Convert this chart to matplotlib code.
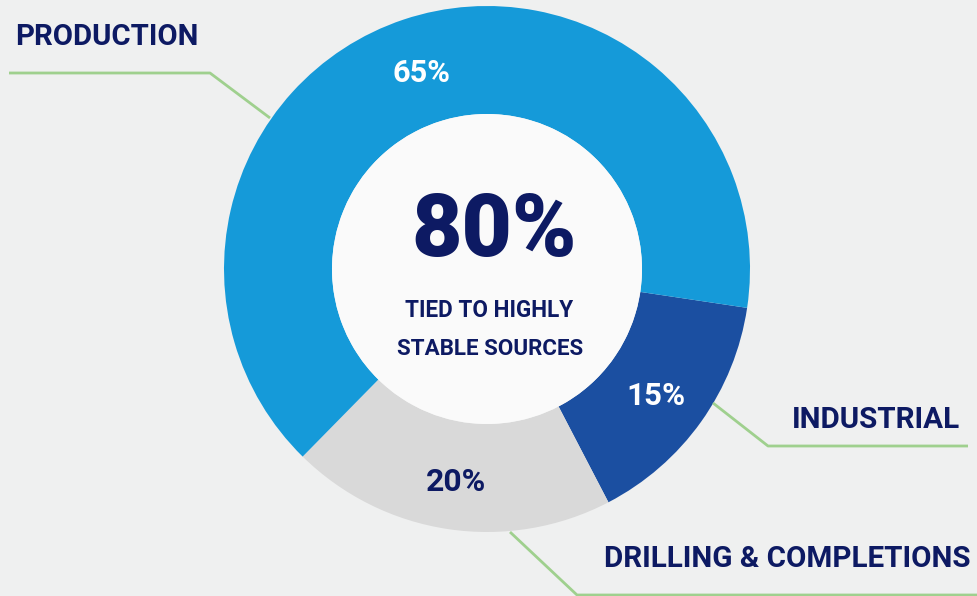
import matplotlib.pyplot as plt
from matplotlib.patches import Circle

# segment data, drawn clockwise starting just below 3 o'clock
segments = ["INDUSTRIAL", "DRILLING & COMPLETIONS", "PRODUCTION"]
shares = [15, 20, 65]
colors = ["#1b4fa1", "#d9d9d9", "#159ad9"]
pct_colors = ["white", "#0d1a63", "white"]

headline = "80%"
subtitle = ["TIED TO HIGHLY", "STABLE SOURCES"]

NAVY = "#0d1a63"
GREEN = "#9fd08e"
BG = "#eff0f0"

W, H = 977, 596
plt.rcParams["font.family"] = ["Roboto", "DejaVu Sans"]

fig = plt.figure(figsize=(W / 100, H / 100), dpi=100, facecolor=BG)
ax = fig.add_axes([0, 0, 1, 1])
ax.set_facecolor(BG)
renderer = fig.canvas.get_renderer()


def fit_text(x, y, s, width, ha="center", color=NAVY, weight="bold"):
    """Place text with its baseline at pixel row y, sized to span `width` px."""
    t = ax.text(x, H - y, s, color=color, fontsize=20, fontweight=weight,
                ha=ha, va="baseline", zorder=5)
    w = t.get_window_extent(renderer).width
    t.set_fontsize(20 * width / w)
    return t


cx, cy = 487, H - 269
r_out, r_in = 263, 155

wedges, _ = ax.pie(
    shares,
    colors=colors,
    startangle=-8.5,
    counterclock=False,
    radius=r_out,
    center=(cx, cy),
    wedgeprops=dict(width=r_out - r_in, linewidth=0),
)
ax.add_patch(Circle((cx, cy), r_in, facecolor="#fafafa", edgecolor="none", zorder=3))

ax.set_xlim(0, W)
ax.set_ylim(0, H)
ax.set_aspect("equal")
ax.axis("off")

# percentage labels inside the ring: (x centre, baseline, width)
pct_pos = {
    "INDUSTRIAL": (656, 405, 59),
    "DRILLING & COMPLETIONS": (456, 491, 60),
    "PRODUCTION": (421, 82, 58),
}
for name, val, col in zip(segments, shares, pct_colors):
    x, y, w = pct_pos[name]
    fit_text(x, y, f"{val}%", w, color=col)

# centre text
fit_text(494, 256, headline, 165, weight="heavy")
fit_text(489, 317, subtitle[0], 168)
fit_text(490, 355, subtitle[1], 186)

# leader lines and category labels
leaders = {
    "PRODUCTION": [(9, 73), (210, 73), (270, 118)],
    "INDUSTRIAL": [(713, 403), (768, 446), (968, 446)],
    "DRILLING & COMPLETIONS": [(510, 532), (577, 595), (977, 595)],
}
label_pos = {
    "PRODUCTION": (15, 45, 183, "left"),
    "INDUSTRIAL": (960, 428, 168, "right"),
    "DRILLING & COMPLETIONS": (970, 567, 367, "right"),
}
for name in segments:
    pts = leaders[name]
    ax.plot([p[0] for p in pts], [H - p[1] for p in pts], color=GREEN, lw=2,
            solid_capstyle="butt", zorder=2)
    x, y, w, ha = label_pos[name]
    fit_text(x, y, name, w, ha=ha)

fig.savefig("out.png", dpi=100, facecolor=BG)
